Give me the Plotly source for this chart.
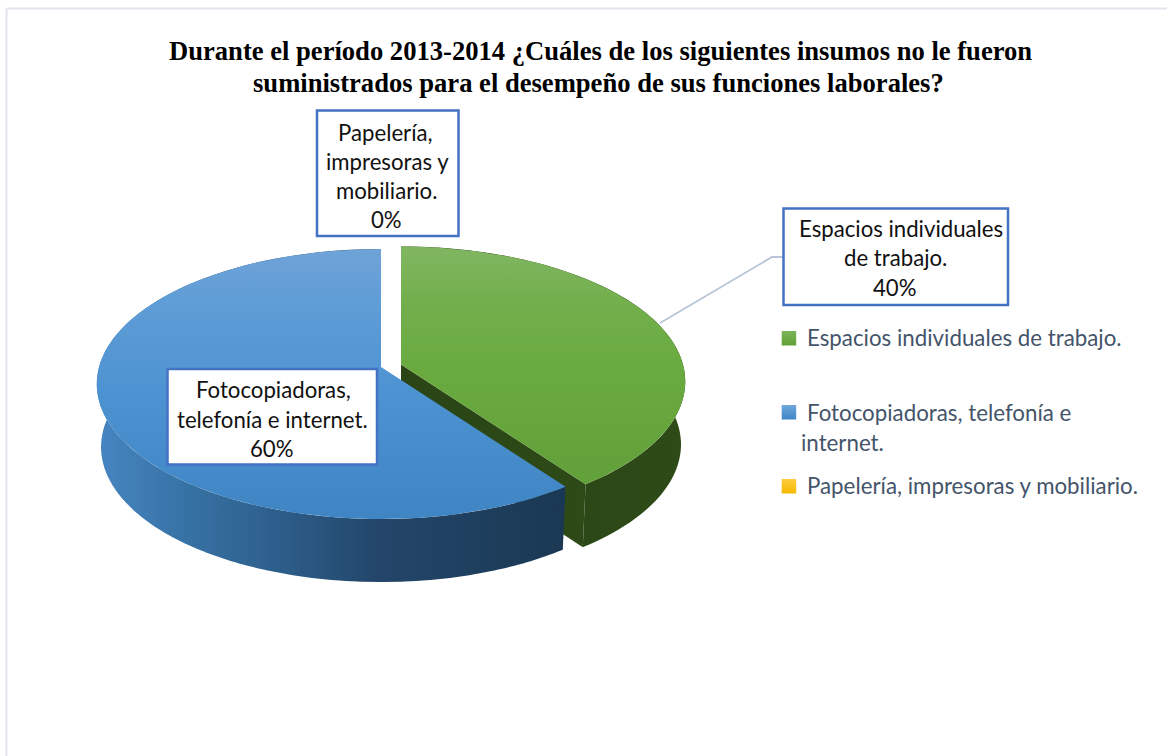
import numpy as np
import plotly.graph_objects as go

# ---- data ----
categories = ["Espacios individuales de trabajo.", "Fotocopiadoras, telefonía e internet.", "Papelería, impresoras y mobiliario."]
values = [40, 60, 0]
title_lines = ["Durante el período 2013-2014 ¿Cuáles de los siguientes insumos no le fueron",
               "suministrados para el desempeño de sus funciones laborales?"]

# ---- drawing style ----
A, B, K = 282.0, 132.9, 0.126     # pie radii and perspective
DEPTH, SHRINK = 63.0, 0.985
APEX = [(401, 364.5), (381, 367)]
FONT = "Lato"

def project(theta, x0, y0):
    u, v = np.sin(theta), -np.cos(theta)
    w = 1 - K * v
    return x0 + A * u / w, y0 + B * v / w

def poly(fig, x, y, grad):
    fig.add_trace(go.Scatter(x=x, y=y, mode="lines", fill="toself", line=dict(width=0),
                             fillgradient=grad, hoverinfo="skip", showlegend=False))

def vgrad(stops):
    # stops listed from the top of the picture to the bottom
    return dict(type="vertical", colorscale=[[1 - p, c] for p, c in stops][::-1])

fig = go.Figure()
total = sum(values)
ang = np.cumsum([0] + values) / total * 2 * np.pi

top_grads = [
    vgrad([(0, "#80b661"), (0.25, "#72af4c"), (0.5, "#6aab40"), (1, "#62a039")]),
    vgrad([(0, "#6fa3d8"), (0.2, "#5f9dd6"), (0.5, "#4f94d2"), (1, "#3f84c3")]),
]
side_grads = [
    dict(type="horizontal", colorscale=[[0, "#2a4416"], [1, "#2d4a17"]]),
    dict(type="horizontal", colorscale=[[0, "#4786c2"], [0.2, "#3671a3"], [0.35, "#2f6290"],
                                        [0.6, "#23466a"], [1, "#1a3853"]]),
]

for i in range(2):
    x0, y0 = APEX[i]
    th = np.linspace(ang[i], ang[i + 1], 121)
    tx, ty = project(th, x0, y0)
    bx, by = x0 + SHRINK * (tx - x0), ty + DEPTH
    # outer wall: one small overlapping quad per step, so the outline is the true silhouette
    wx, wy = [], []
    for j in range(len(th) - 2):
        wx += [tx[j], tx[j + 2], bx[j + 2], bx[j], None]
        wy += [ty[j], ty[j + 2], by[j + 2], by[j], None]
    poly(fig, wx[:-1], wy[:-1], side_grads[i])
    if i == 0:
        # cut face turned to the viewer
        poly(fig, [x0, tx[-1], bx[-1], x0], [y0, ty[-1], by[-1], y0 + DEPTH], side_grads[i])
    # top face
    poly(fig, [x0] + list(tx), [y0] + list(ty), top_grads[i])

# leader line
fig.add_trace(go.Scatter(x=[660, 772, 783], y=[323, 257, 257], mode="lines",
                         line=dict(color="#b7c5d6", width=1.8), hoverinfo="skip", showlegend=False))

# legend swatches
leg_x = 781.7
leg_y = [331, 405, 479]
leg_size = 14.5
leg_colors = [[(0, "#7db45a"), (1, "#60a035")], [(0, "#70a8dc"), (1, "#3f85c6")], [(0, "#ffcd40"), (1, "#f5b800")]]
for yy, stops in zip(leg_y, leg_colors):
    poly(fig, [leg_x, leg_x + leg_size, leg_x + leg_size, leg_x], [yy, yy, yy + leg_size, yy + leg_size], vgrad(stops))

def text(x, y, s, size=22.2, color="#111111", family=FONT, anchor="center"):
    fig.add_annotation(x=x, y=y, xref="x", yref="y", text=s, showarrow=False, xanchor=anchor, yanchor="middle",
                       font=dict(family=family, size=size, color=color))

# title
text(600.5, 51, "<b>" + title_lines[0] + "</b>", size=26.6, color="black", family="Liberation Serif")
text(598, 83, "<b>" + title_lines[1] + "</b>", size=26.6, color="black", family="Liberation Serif")

# label boxes
boxes = [(317, 110.5, 458.5, 236), (783.5, 208.5, 1008, 305), (167.5, 369, 377, 464.5)]
for x1, y1, x2, y2 in boxes:
    fig.add_shape(type="rect", x0=x1, y0=y1, x1=x2, y1=y2, xref="x", yref="y",
                  line=dict(color="#4472c4", width=2.5), fillcolor="white", layer="above")

pct = [f"{round(v / total * 100)}%" for v in values]
label_rows = [
    [(385.7, 132, "Papelería,"), (387.5, 161, "impresoras y"), (386.7, 190, "mobiliario."), (386.7, 219, pct[2])],
    [(900.5, 228, "Espacios individuales"), (895, 257, "de trabajo."), (895, 287, pct[0])],
    [(273, 389, "Fotocopiadoras,"), (272, 419, "telefonía e internet."), (272, 448, pct[1])],
]
for rows in label_rows:
    for x, y, s in rows:
        text(x, y, s)

# legend text
LEG = "#44546a"
text(805, 337, categories[0], size=22.3, color=LEG, anchor="left")
text(805, 412, "Fotocopiadoras, telefonía e", size=22.3, color=LEG, anchor="left")
text(799, 442, "internet.", size=22.3, color=LEG, anchor="left")
text(805, 485, categories[2], size=22.3, color=LEG, anchor="left")

# chart frame
fig.add_shape(type="line", x0=6.5, x1=6.5, y0=8.5, y1=756, line=dict(color="#e1e5ec", width=2))
fig.add_shape(type="line", x0=6.5, x1=1167, y0=8.5, y1=8.5, line=dict(color="#e1e5ec", width=2))

fig.update_layout(width=1167, height=756, margin=dict(l=0, r=0, t=0, b=0), autosize=False,
                  paper_bgcolor="white", plot_bgcolor="white", showlegend=False,
                  xaxis=dict(range=[0, 1167], visible=False, fixedrange=True),
                  yaxis=dict(range=[756, 0], visible=False, fixedrange=True))

fig.write_html("out.html", config={"displayModeBar": False},
               post_script="document.body.style.margin='0';document.body.style.overflow='hidden';")
